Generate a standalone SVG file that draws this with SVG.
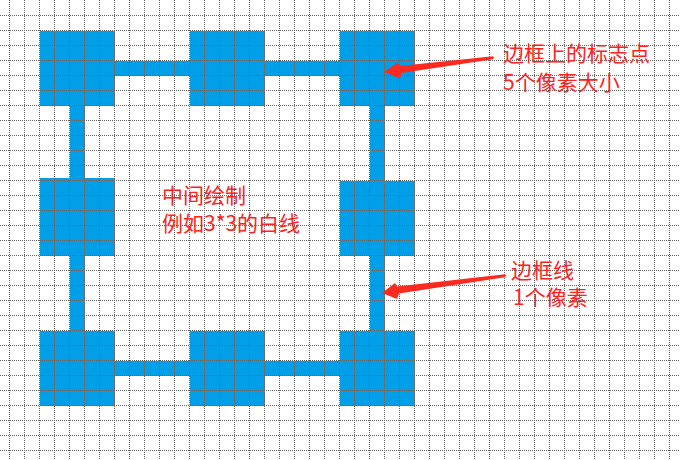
<svg xmlns="http://www.w3.org/2000/svg" width="680" height="460" viewBox="0 0 680 460">
  <defs>
    <style>
      .blue { fill: #009fe8; }
      .grid line { stroke: #666666; stroke-width: 1; stroke-dasharray: 1 1; }
      .arrow { fill: #ff2a1f; }
      .lbl { font-family: "Noto Sans CJK SC", "Microsoft YaHei", sans-serif; font-size: 21px; fill: #ff2020; }
    </style>
  </defs>
  <rect x="0" y="0" width="680" height="460" fill="#ffffff"/>

  <g id="connectors" class="blue">
    <rect x="40" y="61" width="375" height="15"/>
    <rect x="40" y="361" width="375" height="15"/>
    <rect x="70" y="31" width="15" height="375"/>
    <rect x="370" y="31" width="15" height="375"/>
  </g>

  <g id="node-top-left" class="blue"><rect x="40" y="31" width="75" height="75"/></g>
  <g id="node-top-middle" class="blue"><rect x="190" y="31" width="75" height="75"/></g>
  <g id="node-top-right" class="blue"><rect x="340" y="31" width="75" height="75"/></g>
  <g id="node-middle-left" class="blue"><rect x="40" y="178" width="75" height="78"/></g>
  <g id="node-middle-right" class="blue"><rect x="340" y="181" width="75" height="75"/></g>
  <g id="node-bottom-left" class="blue"><rect x="40" y="331" width="75" height="75"/></g>
  <g id="node-bottom-middle" class="blue"><rect x="190" y="331" width="75" height="75"/></g>
  <g id="node-bottom-right" class="blue"><rect x="340" y="331" width="75" height="75"/></g>

  <g id="grid" class="grid">
    <line x1="9.5" y1="0" x2="9.5" y2="460"/>
    <line x1="24.5" y1="0" x2="24.5" y2="460"/>
    <line x1="39.5" y1="0" x2="39.5" y2="460"/>
    <line x1="54.5" y1="0" x2="54.5" y2="460"/>
    <line x1="69.5" y1="0" x2="69.5" y2="460"/>
    <line x1="84.5" y1="0" x2="84.5" y2="460"/>
    <line x1="99.5" y1="0" x2="99.5" y2="460"/>
    <line x1="114.5" y1="0" x2="114.5" y2="460"/>
    <line x1="129.5" y1="0" x2="129.5" y2="460"/>
    <line x1="144.5" y1="0" x2="144.5" y2="460"/>
    <line x1="159.5" y1="0" x2="159.5" y2="460"/>
    <line x1="174.5" y1="0" x2="174.5" y2="460"/>
    <line x1="189.5" y1="0" x2="189.5" y2="460"/>
    <line x1="204.5" y1="0" x2="204.5" y2="460"/>
    <line x1="219.5" y1="0" x2="219.5" y2="460"/>
    <line x1="234.5" y1="0" x2="234.5" y2="460"/>
    <line x1="249.5" y1="0" x2="249.5" y2="460"/>
    <line x1="264.5" y1="0" x2="264.5" y2="460"/>
    <line x1="279.5" y1="0" x2="279.5" y2="460"/>
    <line x1="294.5" y1="0" x2="294.5" y2="460"/>
    <line x1="309.5" y1="0" x2="309.5" y2="460"/>
    <line x1="324.5" y1="0" x2="324.5" y2="460"/>
    <line x1="339.5" y1="0" x2="339.5" y2="460"/>
    <line x1="354.5" y1="0" x2="354.5" y2="460"/>
    <line x1="369.5" y1="0" x2="369.5" y2="460"/>
    <line x1="384.5" y1="0" x2="384.5" y2="460"/>
    <line x1="399.5" y1="0" x2="399.5" y2="460"/>
    <line x1="414.5" y1="0" x2="414.5" y2="460"/>
    <line x1="429.5" y1="0" x2="429.5" y2="460"/>
    <line x1="444.5" y1="0" x2="444.5" y2="460"/>
    <line x1="459.5" y1="0" x2="459.5" y2="460"/>
    <line x1="474.5" y1="0" x2="474.5" y2="460"/>
    <line x1="489.5" y1="0" x2="489.5" y2="460"/>
    <line x1="504.5" y1="0" x2="504.5" y2="460"/>
    <line x1="519.5" y1="0" x2="519.5" y2="460"/>
    <line x1="534.5" y1="0" x2="534.5" y2="460"/>
    <line x1="549.5" y1="0" x2="549.5" y2="460"/>
    <line x1="564.5" y1="0" x2="564.5" y2="460"/>
    <line x1="579.5" y1="0" x2="579.5" y2="460"/>
    <line x1="594.5" y1="0" x2="594.5" y2="460"/>
    <line x1="609.5" y1="0" x2="609.5" y2="460"/>
    <line x1="624.5" y1="0" x2="624.5" y2="460"/>
    <line x1="639.5" y1="0" x2="639.5" y2="460"/>
    <line x1="654.5" y1="0" x2="654.5" y2="460"/>
    <line x1="669.5" y1="0" x2="669.5" y2="460"/>
    <line x1="0" y1="15.5" x2="680" y2="15.5"/>
    <line x1="0" y1="30.5" x2="680" y2="30.5"/>
    <line x1="0" y1="45.5" x2="680" y2="45.5"/>
    <line x1="0" y1="60.5" x2="680" y2="60.5"/>
    <line x1="0" y1="75.5" x2="680" y2="75.5"/>
    <line x1="0" y1="90.5" x2="680" y2="90.5"/>
    <line x1="0" y1="105.5" x2="680" y2="105.5"/>
    <line x1="0" y1="120.5" x2="680" y2="120.5"/>
    <line x1="0" y1="135.5" x2="680" y2="135.5"/>
    <line x1="0" y1="150.5" x2="680" y2="150.5"/>
    <line x1="0" y1="165.5" x2="680" y2="165.5"/>
    <line x1="0" y1="180.5" x2="680" y2="180.5"/>
    <line x1="0" y1="195.5" x2="680" y2="195.5"/>
    <line x1="0" y1="210.5" x2="680" y2="210.5"/>
    <line x1="0" y1="225.5" x2="680" y2="225.5"/>
    <line x1="0" y1="240.5" x2="680" y2="240.5"/>
    <line x1="0" y1="255.5" x2="680" y2="255.5"/>
    <line x1="0" y1="270.5" x2="680" y2="270.5"/>
    <line x1="0" y1="285.5" x2="680" y2="285.5"/>
    <line x1="0" y1="300.5" x2="680" y2="300.5"/>
    <line x1="0" y1="315.5" x2="680" y2="315.5"/>
    <line x1="0" y1="330.5" x2="680" y2="330.5"/>
    <line x1="0" y1="345.5" x2="680" y2="345.5"/>
    <line x1="0" y1="360.5" x2="680" y2="360.5"/>
    <line x1="0" y1="375.5" x2="680" y2="375.5"/>
    <line x1="0" y1="390.5" x2="680" y2="390.5"/>
    <line x1="0" y1="405.5" x2="680" y2="405.5"/>
    <line x1="0" y1="420.5" x2="680" y2="420.5"/>
    <line x1="0" y1="435.5" x2="680" y2="435.5"/>
    <line x1="0" y1="450.5" x2="680" y2="450.5"/>
  </g>

  <g id="annotation-arrows" class="arrow">
    <polygon points="384,72 398,62.5 399.5,66 493,56.3 494,57.8 493,59.3 401.5,73 400,78.5"/>
    <polygon points="382,293 395,283 397,286.5 505,274.3 506,275.8 505,277.3 399,293.5 397,299"/>
  </g>

  <g id="labels" class="lbl">
    <text x="503" y="61">边框上的标志点</text>
    <text x="503" y="90">5个像素大小</text>
    <text x="162" y="203">中间绘制</text>
    <text x="162" y="231">例如3*3的白线</text>
    <text x="511" y="278">边框线</text>
    <text x="513" y="305">1个像素</text>
  </g>
</svg>
